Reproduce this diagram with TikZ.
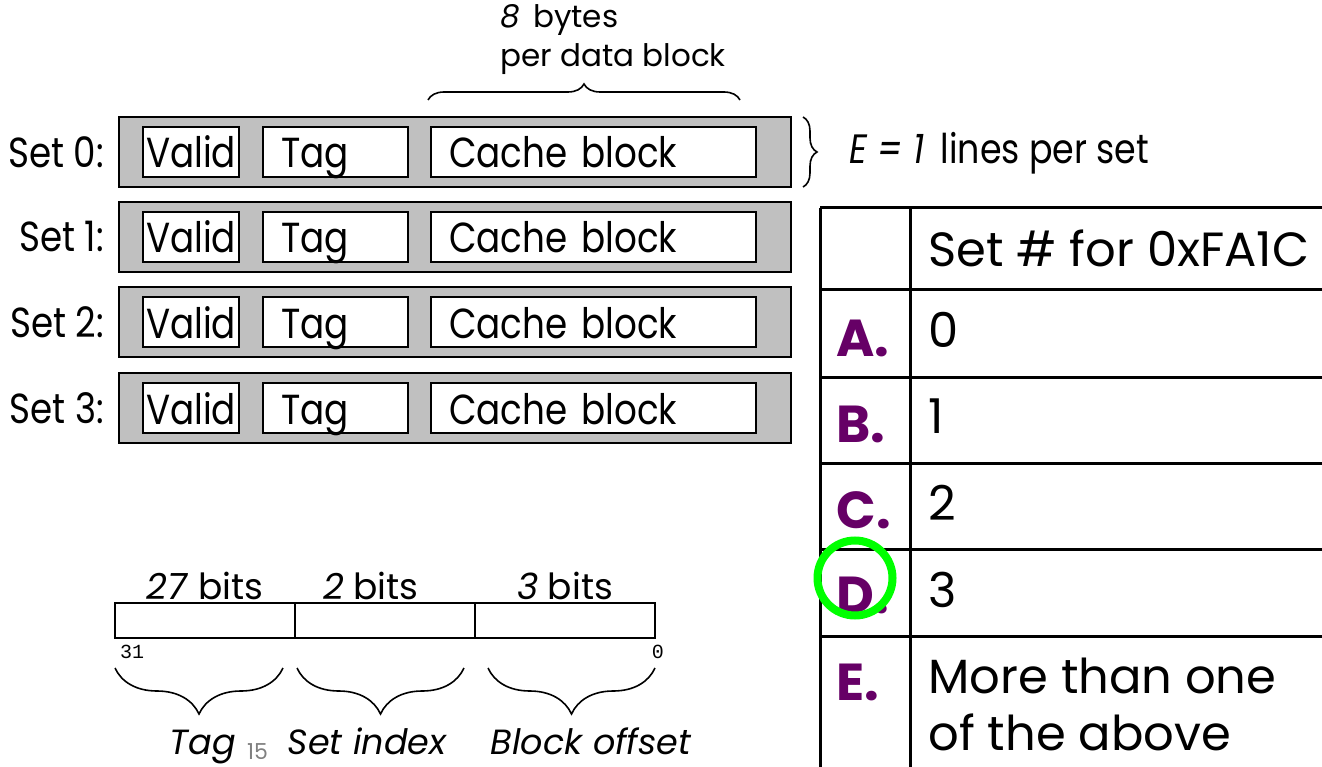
\documentclass[tikz,border=0pt]{standalone}
\usepackage{fontspec}
\setmainfont{Poppins}
\newfontfamily\slimfont[FakeStretch=0.85]{Poppins}
\newfontfamily\bitfont{Liberation Mono}
\usetikzlibrary{positioning,decorations.pathreplacing}

\definecolor{rowgray}{RGB}{192,192,192}
\definecolor{optpurple}{RGB}{102,0,102}
\definecolor{markgreen}{RGB}{0,255,0}
\newcommand{\fsz}[1]{\fontsize{#1}{#1}\selectfont}

\tikzset{
  cacheline/.style={draw, line width=2pt, fill=rowgray, minimum width=672pt,
    minimum height=70pt, inner sep=0pt},
  field/.style={draw, line width=2pt, fill=white, minimum height=50pt,
    inner ysep=0pt, inner xsep=18pt, align=left, text height=36pt, text depth=4pt,
    font=\slimfont\fsz{42}},
  addrfield/.style={draw, line width=2.5pt, minimum width=180pt,
    minimum height=35pt, inner sep=0pt, outer sep=0pt},
  bracket/.style={decorate, line width=1.6pt},
  optletter/.style={anchor=base west, text=optpurple, font=\fsz{52}\bfseries},
  optanswer/.style={anchor=base west, font=\fsz{48}},
  fieldname/.style={anchor=base, font=\fsz{35}\itshape},
}

\begin{document}
\begin{tikzpicture}[x=1pt, y=-1pt]
  \useasboundingbox (0,0) rectangle (1322,767);

  % four sets, one line each
  \foreach \i/\y in {0/152,1/237,2/322,3/408} {
    \node[cacheline] (row\i) at (455,\y) {};
    \node[field, inner xsep=3pt, text width=90pt] (valid\i) at (191,\y) {Valid};
    \node[field, text width=109pt] (tag\i) at (335.5,\y) {Tag};
    \node[field, text width=289pt] (block\i) at (593.5,\y) {Cache block};
    \node[left=14pt of row\i, inner sep=0pt, font=\slimfont\fsz{42}] (setlbl\i) {Set \i:};
  }

  % block size brace over the data part
  \coordinate (bsl) at (428,100);
  \coordinate (bsr) at (740,100);
  \draw[bracket, decoration={brace, amplitude=16pt}] (bsl) -- (bsr);
  \node[anchor=north west, align=left, font=\fsz{31}, inner sep=0pt] (bsize)
    at (500,4) {\textit{8}\, bytes\\[8pt]per data block};

  % lines per set
  \coordinate (lpt) at (803,117);
  \coordinate (lpb) at (803,187);
  \draw[bracket, decoration={brace, amplitude=14pt}] (lpt) -- (lpb);
  \node[anchor=west, font=\slimfont\fsz{41}] (lines) at (846,153) {\textit{E = 1}\, lines per set};

  % answer table
  \draw[line width=3pt] (820,208) -- (820,767);
  \draw[line width=3pt] (910,208) -- (910,767);
  \foreach \y in {208,290,377,463,549,636}
    \draw[line width=3pt] (820,\y) -- (1322,\y);
  \node[optanswer] (qhead) at (925,267) {Set \# for 0xFA1C};
  \foreach \l/\ans/\ly/\ay in {A/0/356/347, B/1/442/433, C/2/528/520, D/3/613/607} {
    \node[optletter] (opt\l) at (833,\ly) {\l.};
    \node[optanswer] (ans\l) at (925,\ay) {\ans};
  }
  \node[optletter] (optE) at (833,700) {E.};
  \node[optanswer] (ansE) at (925,693) {More than one};
  \node[optanswer] (ansEb) at (925,750) {of the above};

  % picked answer
  \draw[markgreen, line width=8pt] (855,578) circle (37.5pt);

  % address split into fields
  \node[addrfield] (tagbits) at (205,620.5) {};
  \node[addrfield, right=0pt of tagbits] (setbits) {};
  \node[addrfield, right=0pt of setbits] (offbits) {};
  \node[above=0pt of tagbits, font=\fsz{36}] (tagw) {\textit{27} bits};
  \node[above=0pt of setbits, xshift=-14pt, font=\fsz{36}] (setw) {\textit{2} bits};
  \node[above=0pt of offbits, font=\fsz{36}] (offw) {\textit{3} bits};
  \node[anchor=north west, font=\bitfont\fsz{20}, inner sep=0pt, xshift=5pt, yshift=-7pt]
    (hibit) at (tagbits.south west) {31};
  \node[anchor=north east, font=\bitfont\fsz{20}, inner sep=0pt, xshift=9pt, yshift=-7pt]
    (lobit) at (offbits.south east) {0};

  % braces naming each field
  \coordinate (tbr) at (283,668); \coordinate (tbl) at (115,668);
  \coordinate (sbr) at (464,668); \coordinate (sbl) at (297,668);
  \coordinate (obr) at (655,668); \coordinate (obl) at (488,668);
  \draw[bracket, decoration={brace, amplitude=46pt}] (tbr) -- (tbl);
  \draw[bracket, decoration={brace, amplitude=46pt}] (sbr) -- (sbl);
  \draw[bracket, decoration={brace, amplitude=46pt}] (obr) -- (obl);
  \node[fieldname] (tagname) at (203,754) {Tag};
  \node[fieldname] (setname) at (367,754) {Set index};
  \node[fieldname] (offname) at (591,754) {Block offset};
  \node[anchor=base west, font=\fsz{22}, text=gray, inner sep=0pt] (pageno) at (247,759) {15};
\end{tikzpicture}
\end{document}
